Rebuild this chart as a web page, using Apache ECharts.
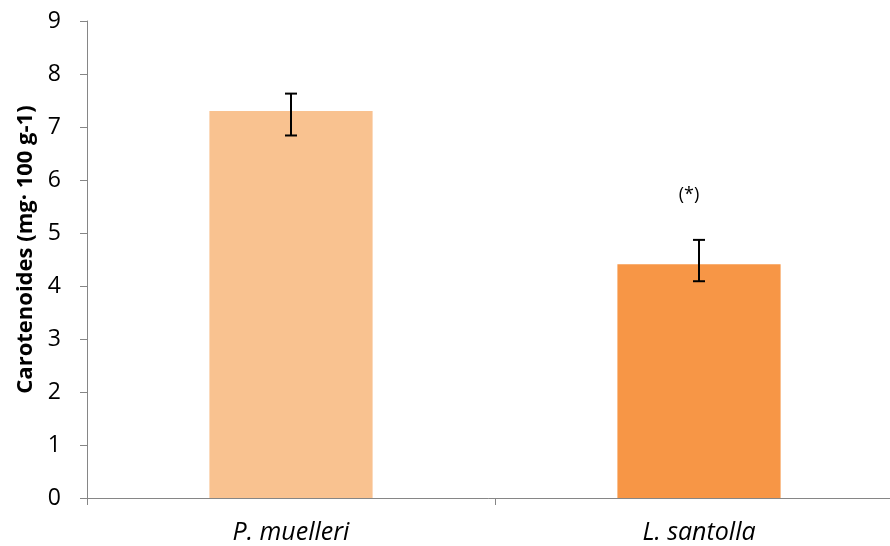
<!DOCTYPE html>
<html><head><meta charset="utf-8">
<script src="https://cdn.jsdelivr.net/npm/echarts@6/dist/echarts.min.js"></script>
<style>html,body{margin:0;padding:0;background:#fff}#c{width:890px;height:546px}</style>
</head><body><div id="c"></div>
<script>
const categories = ['P. muelleri', 'L. santolla'];
const values = [7.30, 4.41];
const errLow = [6.84, 4.09];
const errHigh = [7.63, 4.87];
const annotations = ['', '(*)'];
const barColors = ['#F9C290', '#F79646'];
const yTicks = [0, 1, 2, 3, 4, 5, 6, 7, 8, 9];

const chart = echarts.init(document.getElementById('c'));
chart.setOption({
  animation: false,
  grid: { left: 87, right: -13, top: 21, bottom: 48, outerBoundsMode: 'none', containLabel: false },
  xAxis: {
    type: 'category', data: categories,
    axisLine: { lineStyle: { color: '#868686', width: 1 } },
    axisTick: { show: true, length: 7, lineStyle: { color: '#868686' } },
    axisLabel: { fontFamily: 'Open Sans', fontStyle: 'italic', fontSize: 25, color: '#000', margin: 22 }
  },
  yAxis: {
    type: 'value', min: yTicks[0], max: yTicks[yTicks.length - 1], interval: 1,
    name: 'Carotenoides (mg· 100 g-1)', nameLocation: 'middle', nameGap: 45,
    nameTextStyle: { fontFamily: 'Open Sans', fontWeight: 'bold', fontSize: 22, color: '#000', padding: [0, 0, 0, 20] },
    axisLine: { show: true, lineStyle: { color: '#868686', width: 1 } },
    axisTick: { show: true, length: 7, lineStyle: { color: '#868686' } },
    splitLine: { show: false },
    axisLabel: { fontFamily: 'Open Sans', fontSize: 23, color: '#000', margin: 26 }
  },
  series: [
    {
      type: 'bar', barWidth: '40%',
      data: values.map((v, i) => ({ value: v, itemStyle: { color: barColors[i] } })),
      label: {
        show: true, position: 'top', distance: 60, offset: [-10, 0],
        formatter: p => annotations[p.dataIndex],
        fontFamily: 'Open Sans', fontSize: 18, color: '#000'
      }
    },
    {
      type: 'custom',
      data: categories.map((c, i) => [i, errLow[i], errHigh[i]]),
      renderItem: function (params, api) {
        const lo = api.coord([api.value(0), api.value(1)]);
        const hi = api.coord([api.value(0), api.value(2)]);
        const hw = 6;
        const st = { stroke: '#000', lineWidth: 2 };
        return { type: 'group', children: [
          { type: 'line', shape: { x1: lo[0], y1: lo[1], x2: hi[0], y2: hi[1] }, style: st },
          { type: 'line', shape: { x1: lo[0] - hw, y1: lo[1], x2: lo[0] + hw, y2: lo[1] }, style: st },
          { type: 'line', shape: { x1: hi[0] - hw, y1: hi[1], x2: hi[0] + hw, y2: hi[1] }, style: st }
        ]};
      },
      z: 10
    }
  ]
});
</script></body></html>
